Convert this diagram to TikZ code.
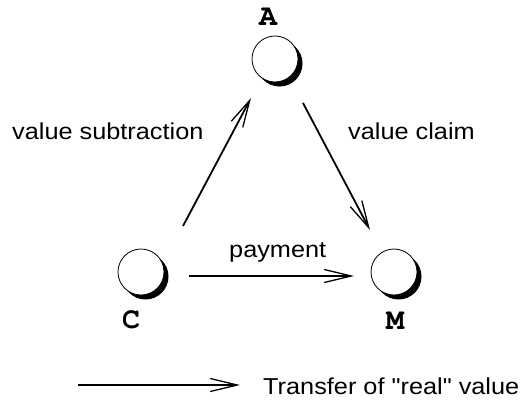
\documentclass[tikz,border=0pt]{standalone}
\usepackage[T1]{fontenc}
\usepackage{fontspec}
\newfontfamily\notefont[FakeStretch=1.1]{Liberation Sans}
\usetikzlibrary{arrows.meta,shadows}
\tikzset{every node/.style={font=\notefont},line cap=round,line join=round}

\begin{document}
\begin{tikzpicture}[x=1pt,y=-1pt,
  party/.style={circle,draw,line width=0.8pt,fill=white,minimum size=46pt,inner sep=0pt,
    drop shadow={shadow xshift=4.5pt,shadow yshift=-4.5pt,fill=black,opacity=1}},
  tag/.style={font=\fontencoding{T1}\fontfamily{pcr}\fontseries{b}\fontsize{30}{30}\selectfont,inner sep=0pt},
  note/.style={font=\notefont\fontsize{23}{23}\selectfont,inner sep=0pt},
  flow/.style={line width=1.8pt,-{Straight Barb[length=27pt,width=13pt,line width=1.3pt]}}]
  \useasboundingbox (0,0) rectangle (522,399);
  % the three parties
  \node[party] (A) at (275,59) {};
  \node[party] (C) at (141,272) {};
  \node[party] (M) at (394,272) {};
  \node[tag] (Atag) at (268,17) {A};
  \node[tag] (Ctag) at (131,320) {C};
  \node[tag] (Mtag) at (395,321) {M};

  % flows of value
  \draw[flow] ([shift={(42,-46)}]C.center) -- ([shift={(-24,39)}]A.center);
  \draw[flow] ([shift={(28,44)}]A.center) -- ([shift={(-24,-42)}]M.center);
  \draw[flow] ([shift={(48,4)}]C.center) -- ([shift={(-40,4)}]M.center);
  \node[note,anchor=base west] (subtr) at (12,139) {value subtraction};
  \node[note,anchor=base west] (claim) at (348,139) {value claim};
  \node[note,anchor=base west] (pay) at (229,257) {payment};

  % key
  \coordinate (keyfrom) at (78,385);
  \coordinate (keyto) at (240,385);
  \draw[flow] (keyfrom) -- (keyto);
  \node[note,anchor=base west] (key) at (263,394) {Transfer of "real" value};
\end{tikzpicture}
\end{document}
